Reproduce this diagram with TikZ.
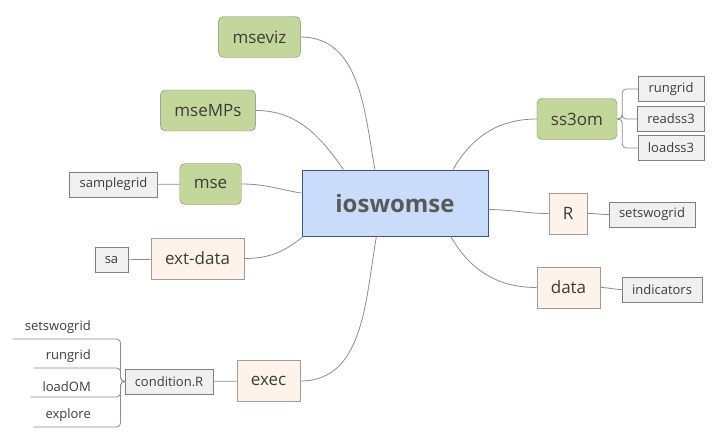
\documentclass[tikz,border=0pt]{standalone}
\usepackage{fontspec}
\setmainfont{Open Sans}
\usetikzlibrary{positioning}
\definecolor{rootfill}{HTML}{C9DCFB}
\definecolor{rootline}{HTML}{3A5687}
\definecolor{greenfill}{HTML}{C4D79B}
\definecolor{greenline}{HTML}{7E8468}
\definecolor{peachfill}{HTML}{FDF3EA}
\definecolor{peachline}{HTML}{A89A8E}
\definecolor{leaffill}{HTML}{F0F0F0}
\definecolor{leafline}{HTML}{7F7F7F}
\definecolor{linegray}{HTML}{8C8C8C}
\definecolor{textgray}{HTML}{3C3C3C}

\begin{document}
\begin{tikzpicture}[x=1pt,y=1pt,
  root/.style={draw=rootline,fill=rootfill,line width=1pt,minimum width=186pt,minimum height=66pt,
    font=\fontsize{24}{28}\selectfont\bfseries,text=textgray!85},
  topic/.style={draw=greenline,fill=greenfill,rounded corners=5pt,minimum height=41pt,inner xsep=14pt,
    font=\fontsize{17}{20}\selectfont,text=textgray},
  side/.style={draw=peachline,fill=peachfill,minimum height=41pt,inner xsep=14pt,
    font=\fontsize{17}{20}\selectfont,text=textgray},
  leaf/.style={draw=leafline,fill=leaffill,minimum height=25pt,inner xsep=10pt,
    font=\fontsize{13}{15}\selectfont,text=textgray},
  bare/.style={inner xsep=12pt,inner ysep=5pt,font=\fontsize{13}{15}\selectfont,text=textgray},
  branch/.style={draw=linegray,line width=0.8pt},
]
\useasboundingbox (0,0) rectangle (723,-442);

\node[root] (root) at (395,-203) {ioswomse};

% left side
\node[topic] (mseviz) at (259.5,-37) {mseviz};
\node[topic] (mseMPs) at (208,-110.5) {mseMPs};
\node[topic] (mse) at (210.5,-184) {mse};
\node[leaf] (samplegrid) at (113.5,-184.5) {samplegrid};
\node[side] (extdata) at (197.5,-258.5) {ext-data};
\node[leaf] (sa) at (111.5,-260) {sa};
\node[side] (exec) at (268.5,-381) {exec};
\node[leaf] (cond) at (169,-381.5) {condition.R};
\node[bare,anchor=south east] (c1) at (103,-339) {setswogrid};
\node[bare,anchor=south east] (c2) at (103,-368) {rungrid};
\node[bare,anchor=south east] (c3) at (103,-397) {loadOM};
\node[bare,anchor=south east] (c4) at (103,-427) {explore};

% right side
\node[topic] (ss3om) at (577,-119) {ss3om};
\node[leaf,minimum width=66pt] (s1) at (671,-89) {rungrid};
\node[leaf,minimum width=66pt] (s2) at (671,-119) {readss3};
\node[leaf,minimum width=66pt] (s3) at (671,-148) {loadss3};
\node[side] (R) at (568,-213.5) {R};
\node[leaf] (setswogrid) at (652,-214.5) {setswogrid};
\node[side] (data) at (568.5,-287.5) {data};
\node[leaf] (indicators) at (662,-289.5) {indicators};

% main branches
\draw[branch] (mseviz.east) to[out=0,in=100] (root.121);
\draw[branch] (mseMPs.east) to[out=0,in=125] (root.147);
\draw[branch] (mse.east) to[out=0,in=170] (root.174);
\draw[branch] (extdata.east) to[out=0,in=220] (root.200);
\draw[branch] (exec.east) to[out=0,in=260] (root.241);
\draw[branch] (root.30) to[out=60,in=180] (ss3om.west);
\draw[branch] (root.356) to[out=0,in=180] (R.west);
\draw[branch] (root.329) to[out=-60,in=180] (data.west);

% sub branches
\draw[branch] (samplegrid) -- (mse);
\draw[branch] (sa) -- (extdata);
\draw[branch] (cond) -- (exec);
\draw[branch] (R.east) to[out=0,in=180] (setswogrid.west);
\draw[branch] (data.east) to[out=0,in=180] (indicators.west);
\foreach \s in {s1,s2,s3}
  \draw[branch,rounded corners=4pt] (ss3om.east) -- ++(5,0) |- (\s.west);
\foreach \c in {c1,c2,c3,c4}
  \draw[branch,rounded corners=4pt] (cond.west) -- ++(-4,0) |- (\c.south east) -- (\c.south west);
\end{tikzpicture}
\end{document}
